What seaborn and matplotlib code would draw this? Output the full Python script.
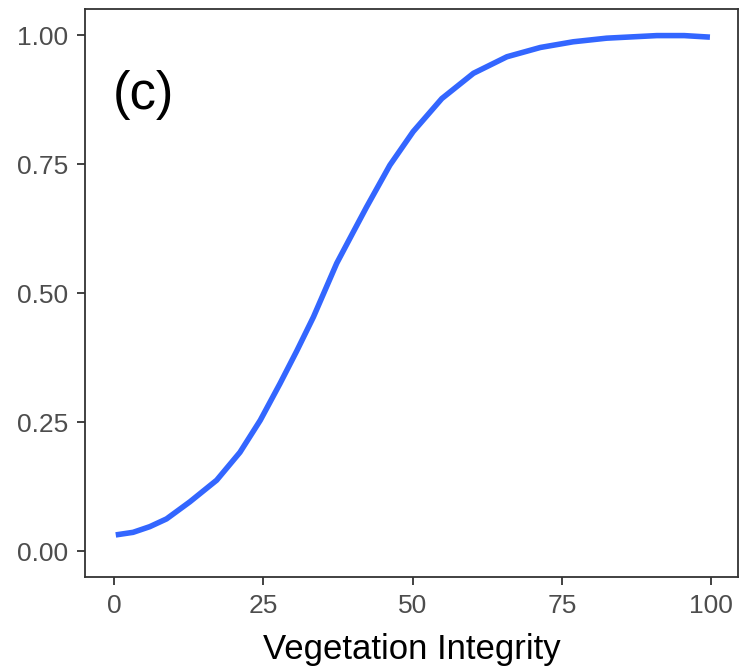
import matplotlib
matplotlib.use("Agg")
import matplotlib.pyplot as plt
import seaborn as sns
import pandas as pd

veg_integrity = [0.3, 3.2, 6.0, 8.8, 12.7, 17.2, 21.1, 24.5, 27.8, 30.6, 33.4, 37.3, 40.0, 42.3, 46.2, 50.1, 54.9, 60.2, 65.8, 71.4, 76.9, 82.5, 90.9, 95.5, 99.8]
probability = [0.032, 0.037, 0.048, 0.063, 0.096, 0.138, 0.192, 0.254, 0.325, 0.388, 0.454, 0.558, 0.617, 0.667, 0.748, 0.813, 0.877, 0.926, 0.958, 0.976, 0.987, 0.994, 0.999, 0.999, 0.996]
x_ticks = [0, 25, 50, 75, 100]
y_ticks = [0.00, 0.25, 0.50, 0.75, 1.00]
y_labels = ["0.00", "0.25", "0.50", "0.75", "1.00"]

sns.set_style("white")
plt.rcParams['font.family'] = ['Liberation Sans', 'DejaVu Sans']

df = pd.DataFrame({"x": veg_integrity, "y": probability})

fig = plt.figure(figsize=(7.4, 6.67), dpi=100)
ax = fig.add_axes([85/740, 1 - 577/667, (738 - 85)/740, (577 - 9)/667])
sns.lineplot(data=df, x="x", y="y", ax=ax, color="#3366FF", linewidth=4.0)
ax.lines[0].set_solid_capstyle("butt")
ax.lines[0].set_solid_joinstyle("round")

ax.set_xlim(-4.85, 104.5)
ax.set_ylim(-0.0495, 1.0505)
ax.set_xticks(x_ticks)
ax.set_yticks(y_ticks)
ax.set_yticklabels(y_labels)
ax.set_xlabel("Vegetation Integrity", fontsize=25, color="black", labelpad=11)
ax.set_ylabel("")
ax.tick_params(axis="both", which="both", length=6, width=1.3, color="#333333",
               labelsize=19, labelcolor="#4D4D4D", direction="out", left=True, bottom=True, pad=6)
for s in ax.spines.values():
    s.set_color("#333333")
    s.set_linewidth(1.3)
    s.set_visible(True)
ax.text(0.043, 0.849, "(c)", transform=ax.transAxes, fontsize=38, color="black", va="center", ha="left")

fig.savefig("out.png", dpi=100)
